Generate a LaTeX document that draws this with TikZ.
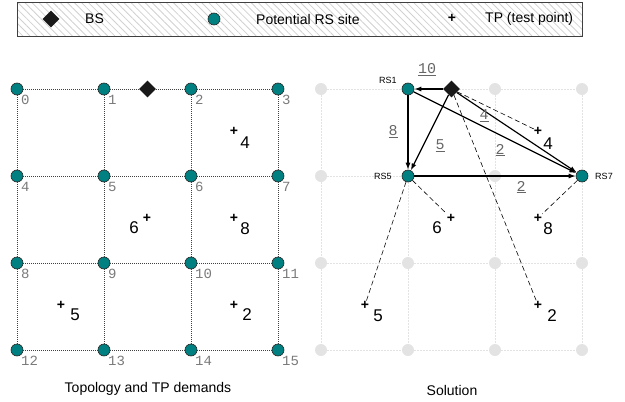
\documentclass[tikz,border=0pt]{standalone}
\usepackage{fontspec}
\setmainfont{Liberation Sans}
\setmonofont{Liberation Mono}
\usetikzlibrary{shapes.geometric,arrows.meta,patterns.meta}
\definecolor{rsteal}{HTML}{008080}
\definecolor{siteg}{HTML}{E3E3E3}
\definecolor{numg}{HTML}{7A7A7A}
\begin{document}
\begin{tikzpicture}[x=1pt,y=-1pt,
		site/.style={circle,draw=black!85,line width=0.6pt,fill=rsteal,minimum size=12pt,inner sep=0pt},
		free/.style={circle,fill=siteg,minimum size=12pt,inner sep=0pt},
		bsmark/.style={diamond,fill=black!90,minimum size=17pt,inner sep=0pt},
		txt/.style={font=\fontsize{14}{14}\selectfont,inner sep=0pt},
		tp/.style={font=\bfseries\fontsize{14}{14}\selectfont,inner sep=0pt},
		dem/.style={font=\fontsize{17}{17}\selectfont,inner sep=0pt},
		num/.style={font=\ttfamily\fontsize{14}{14}\selectfont,text=numg,anchor=west,inner sep=0pt},
		rslbl/.style={font=\fontsize{9}{9}\selectfont,inner sep=0pt},
		rate/.style={font=\ttfamily\fontsize{15}{15}\selectfont,text=black!60,inner sep=0pt},
		flow/.style={line width=1.2pt,-{Latex[length=7pt,width=5pt]}},
		hop/.style={dash pattern=on 5pt off 3pt,line width=0.6pt},
		gridl/.style={black!75,line width=0.7pt,dash pattern=on 1pt off 1pt},
		gridr/.style={siteg,line width=0.8pt,dash pattern=on 1.5pt off 1.5pt}]
	\useasboundingbox(0,0)rectangle(625,402);
	% legend
	\draw[draw=black!75,line width=1pt,pattern={Lines[angle=-45,distance=5pt,line width=0.8pt]},pattern color=black!18](17,2)rectangle(582,36);
	\node[bsmark](lbs)at(51,19){};
	\node[txt,anchor=west](lbstxt)at(85,19){BS};
	\node[site](lsite)at(214,19){};
	\node[txt,anchor=west](lsitetxt)at(256,19){Potential RS site};
	\node[tp](ltp)at(452,18){+};
	\node[txt,anchor=west](ltptxt)at(485,19){TP (test point)};
	% topology
	\foreach \i in {0,...,15}{
		\pgfmathsetmacro\cx{17+87*mod(\i,4)}
		\pgfmathsetmacro\cy{89+87*div(\i,4)}
		\node[site](t\i)at(\cx,\cy){};
		\node[num](tn\i)at(\cx+4,\cy+11){\i};
	}
	\draw[gridl](t0)--(t1)(t1)--(t2)(t2)--(t3)(t4)--(t5)(t5)--(t6)(t6)--(t7)(t8)--(t9)(t9)--(t10)(t10)--(t11)(t12)--(t13)(t13)--(t14)(t14)--(t15);
	\draw[gridl](t0)--(t4)(t4)--(t8)(t8)--(t12)(t1)--(t5)(t5)--(t9)(t9)--(t13)(t2)--(t6)(t6)--(t10)(t10)--(t14)(t3)--(t7)(t7)--(t11)(t11)--(t15);
	\node[bsmark](tbs)at(147.5,89){};
	\node[tp](tp4)at(234,131){+};
	\node[tp](tp6)at(147,218){+};
	\node[tp](tp8)at(234,218){+};
	\node[tp](tp5)at(61,305){+};
	\node[tp](tp2)at(234,305){+};
	\node[dem](td4)at(245,143){4};
	\node[dem](td6)at(134,228){6};
	\node[dem](td8)at(245,229){8};
	\node[dem](td5)at(75,315){5};
	\node[dem](td2)at(247,315){2};
	\node[txt](tcap)at(148,389){Topology and TP demands};
	% solution
	\foreach \i in {0,...,15}{
		\pgfmathsetmacro\cx{321+87*mod(\i,4)}
		\pgfmathsetmacro\cy{89+87*div(\i,4)}
		\node[free](s\i)at(\cx,\cy){};
	}
	\draw[gridr](s0)--(s1)(s1)--(s2)(s2)--(s3)(s4)--(s5)(s5)--(s6)(s6)--(s7)(s8)--(s9)(s9)--(s10)(s10)--(s11)(s12)--(s13)(s13)--(s14)(s14)--(s15);
	\draw[gridr](s0)--(s4)(s4)--(s8)(s8)--(s12)(s1)--(s5)(s5)--(s9)(s9)--(s13)(s2)--(s6)(s6)--(s10)(s10)--(s14)(s3)--(s7)(s7)--(s11)(s11)--(s15);
	\node[site](rs1)at(s1){};
	\node[site](rs5)at(s5){};
	\node[site](rs7)at(s7){};
	\node[rslbl](rs1l)at(388,80){RS1};
	\node[rslbl](rs5l)at(383,176){RS5};
	\node[rslbl](rs7l)at(604,176){RS7};
	\node[bsmark](bs)at(451.5,89){};
	\node[tp](sp4)at(538,131){+};
	\node[tp](sp6)at(451,218){+};
	\node[tp](sp8)at(538,218){+};
	\node[tp](sp5)at(365,305){+};
	\node[tp](sp2)at(538,305){+};
	\node[dem](sd4)at(548,144){4};
	\node[dem](sd6)at(437,228){6};
	\node[dem](sd8)at(548,229){8};
	\node[dem](sd5)at(378,316){5};
	\node[dem](sd2)at(552,316){2};
	\draw[hop](bs)--(sp4);
	\draw[hop](bs)--(sp2);
	\draw[hop](rs5)--(sp6);
	\draw[hop](rs5)--(sp5);
	\draw[hop](rs7)--(sp8);
	\draw[flow](bs)--(rs1);
	\draw[flow](bs)--(rs5);
	\draw[flow](bs)--(rs7);
	\draw[flow](rs1)--(rs5);
	\draw[flow](rs1)--(rs7);
	\draw[flow](rs5)--(rs7);
	\node[rate](w10)at(427,70){\underline{10}};
	\node[rate](w8)at(393,132){\underline{8}};
	\node[rate](w5)at(440,146){\underline{5}};
	\node[rate](w4)at(484,116){\underline{4}};
	\node[rate](w2a)at(500,150){\underline{2}};
	\node[rate](w2b)at(521,187){\underline{2}};
	\node[txt](scap)at(452,390){Solution};
\end{tikzpicture}
\end{document}
